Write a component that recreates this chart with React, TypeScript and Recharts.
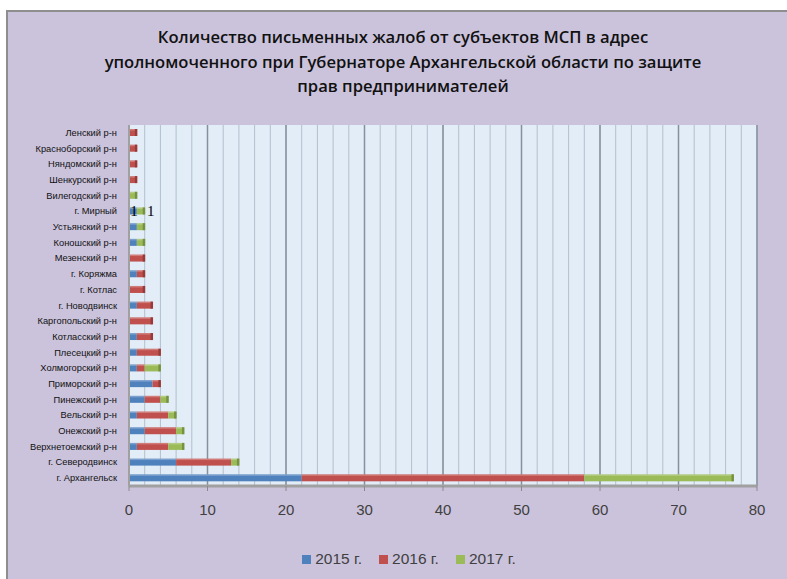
import { BarChart, Bar, XAxis, YAxis, CartesianGrid, LabelList } from 'recharts'

const categories = [
  'Ленский р-н',
  'Красноборский р-н',
  'Няндомский р-н',
  'Шенкурский р-н',
  'Вилегодский р-н',
  'г. Мирный',
  'Устьянский р-н',
  'Коношский р-н',
  'Мезенский р-н',
  'г. Коряжма',
  'г. Котлас',
  'г. Новодвинск',
  'Каргопольский р-н',
  'Котласский р-н',
  'Плесецкий р-н',
  'Холмогорский р-н',
  'Приморский р-н',
  'Пинежский р-н',
  'Вельский р-н',
  'Онежский р-н',
  'Верхнетоемский р-н',
  'г. Северодвинск',
  'г. Архангельск',
]

const y2015 = [0, 0, 0, 0, 0, 1, 1, 1, 0, 1, 0, 1, 0, 1, 1, 1, 3, 2, 1, 2, 1, 6, 22]
const y2016 = [1, 1, 1, 1, 0, 0, 0, 0, 2, 1, 2, 2, 3, 2, 3, 1, 1, 2, 4, 4, 4, 7, 36]
const y2017 = [0, 0, 0, 0, 1, 1, 1, 1, 0, 0, 0, 0, 0, 0, 0, 2, 0, 1, 1, 1, 2, 1, 19]

const xTicks = [0, 10, 20, 30, 40, 50, 60, 70, 80]
const seriesNames = ['2015 г.', '2016 г.', '2017 г.']
const colors = ['#4F81BD', '#C0504D', '#9BBB59']
const edgeColors = ['#38659c', '#983a38', '#76923f']
const labelled = 'г. Мирный'

const titleLines = [
  'Количество письменных жалоб от субъектов МСП в адрес',
  'уполномоченного при Губернаторе Архангельской области по защите',
  'прав предпринимателей',
]

const data = categories.map((name, i) => ({
  name,
  a: y2015[i],
  b: y2016[i],
  c: y2017[i],
}))

const keys = ['a', 'b', 'c']

// минорная сетка через каждые 2 единицы
const minorGrid = (props: any) => {
  const { offset } = props
  const vals: number[] = []
  for (let v = 0; v <= 80; v += 2) vals.push(v)
  return vals.map((v) => offset.left + (v / 80) * offset.width)
}

// сегмент с тёмным торцом, если он последний в строке
const makeShape = (idx: number) => (p: any) => {
  const { x, y, width, height, payload } = p
  if (!width || width <= 0) return <g />
  const rest = keys.slice(idx + 1).reduce((s, k) => s + (payload[k] || 0), 0)
  return (
    <g>
      <rect x={x} y={y} width={width} height={height} fill={colors[idx]} />
      <rect x={x} y={y} width={width} height={1.5} fill="#ffffff" opacity={0.25} />
      {rest === 0 && (
        <rect x={x + width - 2} y={y} width={2.5} height={height} fill={edgeColors[idx]} />
      )}
    </g>
  )
}

const makeLabel = (idx: number) => (p: any) => {
  const { x, y, width, height, index } = p
  if (data[index]?.name !== labelled) return null
  const lx = idx === 0 ? x + 5 : x + width + 6
  return (
    <text
      x={lx}
      y={y + height / 2 + 5}
      textAnchor="middle"
      fontSize={15}
      fontFamily="'Liberation Serif', serif"
      fill="#000"
    >
      {idx === 0 ? y2015[index] : y2017[index]}
    </text>
  )
}

const CatTick = (p: any) => {
  const { x, y, payload } = p
  return (
    <text
      x={x - 2}
      y={y}
      dy={3}
      textAnchor="end"
      fontSize={9.3}
      fontFamily="'Liberation Sans', sans-serif"
      fill="#111"
    >
      {payload.value}
    </text>
  )
}

export default function App() {
  return (
    <div
      style={{
        position: 'absolute',
        left: 0,
        top: 0,
        width: 787,
        height: 579,
        background: '#fff',
        overflow: 'hidden',
      }}
    >
      <div
        style={{
          position: 'absolute',
          left: 6,
          top: 10,
          width: 800,
          height: 600,
          background: '#CBC3DC',
          borderTop: '2px solid #8e8e8e',
          borderLeft: '2px solid #8e8e8e',
        }}
      />
      <div
        style={{
          position: 'absolute',
          left: 20,
          top: 25,
          width: 766,
          textAlign: 'center',
          fontFamily: "'Open Sans', sans-serif",
          fontWeight: 600,
          fontSize: 16.6,
          lineHeight: '24.5px',
          color: '#111',
        }}
      >
        {titleLines.map((t) => (
          <div key={t}>{t}</div>
        ))}
      </div>
      <div style={{ position: 'absolute', left: 0, top: 0 }}>
        <BarChart
          width={787}
          height={579}
          data={data}
          layout="vertical"
          barSize={7}
          margin={{ top: 125, right: 30, bottom: 63, left: 0 }}
        >
          <CartesianGrid
            horizontal={false}
            fill="#E2EDF8"
            stroke="#b3bfcc"
            verticalCoordinatesGenerator={minorGrid}
          />
          <CartesianGrid horizontal={false} stroke="#87919d" strokeWidth={1.5} />
          <XAxis
            type="number"
            domain={[0, 80]}
            ticks={xTicks}
            height={30}
            axisLine={{ stroke: '#a0a0a0', strokeWidth: 3 }}
            tickLine={{ stroke: '#8a8a8a' }}
            tickSize={5}
            tickMargin={13}
            tick={{ fill: '#404040', fontSize: 15, fontFamily: "'Liberation Sans', sans-serif" }}
          />
          <YAxis
            type="category"
            dataKey="name"
            width={129}
            interval={0}
            tickLine={false}
            tickMargin={4}
            axisLine={{ stroke: '#a0a0a0', strokeWidth: 2 }}
            tick={<CatTick />}
          />
          {keys.map((k, i) => (
            <Bar
              key={k}
              dataKey={k}
              name={seriesNames[i]}
              stackId="s"
              fill={colors[i]}
              shape={makeShape(i)}
              isAnimationActive={false}
            >
              {i !== 1 && <LabelList dataKey={k} content={makeLabel(i)} />}
            </Bar>
          ))}
        </BarChart>
      </div>
      <div
        style={{
          position: 'absolute',
          left: 0,
          top: 550,
          width: 818,
          display: 'flex',
          justifyContent: 'center',
          gap: 17,
          fontFamily: "'Liberation Sans', sans-serif",
          fontSize: 15.5,
          color: '#404040',
        }}
      >
        {seriesNames.map((n, i) => (
          <div key={n} style={{ display: 'flex', alignItems: 'center' }}>
            <span
              style={{
                display: 'inline-block',
                width: 9,
                height: 9,
                background: colors[i],
                marginRight: 4,
              }}
            />
            {n}
          </div>
        ))}
      </div>
    </div>
  )
}
